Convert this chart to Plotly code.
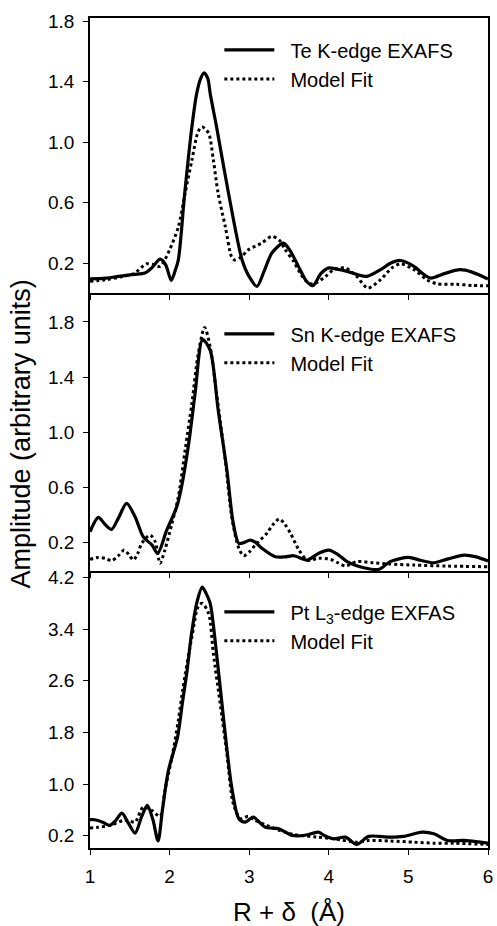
import plotly.graph_objects as go

# ---------------- data ----------------
te_x = [1.0, 1.2, 1.36, 1.55, 1.69, 1.78, 1.88, 1.95, 2.02, 2.07, 2.11, 2.19, 2.28, 2.34, 2.39, 2.434,
        2.48, 2.51, 2.59, 2.74, 2.91, 3.0, 3.097, 3.19, 3.285, 3.43, 3.516, 3.64, 3.72, 3.80, 3.9, 4.0,
        4.1, 4.23, 4.35, 4.48, 4.65, 4.78, 4.90, 5.07, 5.18, 5.28, 5.45, 5.65, 5.8, 6.0]
te_y = [0.095, 0.10, 0.112, 0.125, 0.134, 0.17, 0.226, 0.19, 0.085, 0.15, 0.222, 0.662, 1.10, 1.32, 1.42, 1.458,
        1.42, 1.32, 1.10, 0.662, 0.222, 0.11, 0.046, 0.15, 0.266, 0.332, 0.28, 0.156, 0.08, 0.05, 0.13, 0.168,
        0.16, 0.145, 0.125, 0.112, 0.156, 0.2, 0.217, 0.178, 0.13, 0.1, 0.13, 0.156, 0.14, 0.094]

te_fit_x = [1.0, 1.2, 1.4, 1.55, 1.71, 1.8, 1.88, 2.0, 2.11, 2.195, 2.28, 2.36, 2.41, 2.49, 2.55, 2.61, 2.70,
            2.78, 2.82, 2.9, 2.99, 3.15, 3.285, 3.38, 3.45, 3.56, 3.64, 3.72, 3.80, 3.96, 4.06, 4.21, 4.35,
            4.49, 4.65, 4.79, 4.90, 5.07, 5.23, 5.36, 5.6, 5.8, 6.0]
te_fit_y = [0.079, 0.09, 0.11, 0.13, 0.195, 0.19, 0.178, 0.288, 0.44, 0.662, 0.88, 1.07, 1.10, 1.058, 0.88, 0.66, 0.44,
            0.24, 0.22, 0.24, 0.288, 0.33, 0.376, 0.35, 0.29, 0.21, 0.134, 0.08, 0.06, 0.112, 0.156, 0.167, 0.112,
            0.035, 0.09, 0.167, 0.195, 0.156, 0.09, 0.063, 0.06, 0.052, 0.05]

sn_x = [1.0, 1.105, 1.19, 1.27, 1.36, 1.46, 1.566, 1.67, 1.78, 1.85, 1.965, 2.09, 2.15, 2.24, 2.32, 2.415,
        2.51, 2.61, 2.72, 2.80, 2.87, 2.94, 3.01, 3.08, 3.16, 3.33, 3.45, 3.56, 3.73, 3.87, 4.0, 4.12, 4.23,
        4.44, 4.63, 4.77, 5.0, 5.15, 5.32, 5.50, 5.70, 5.85, 6.0]
sn_y = [0.277, 0.381, 0.33, 0.294, 0.38, 0.483, 0.386, 0.24, 0.18, 0.12, 0.29, 0.458, 0.603, 0.918, 1.28, 1.672,
        1.594, 1.16, 0.724, 0.338, 0.193, 0.2, 0.217, 0.2, 0.157, 0.096, 0.095, 0.103, 0.072, 0.12, 0.144, 0.11, 0.06,
        0.016, 0.004, 0.06, 0.091, 0.07, 0.052, 0.08, 0.108, 0.095, 0.065]

sn_fit_x = [1.0, 1.1, 1.19, 1.27, 1.35, 1.43, 1.49, 1.545, 1.60, 1.65, 1.755, 1.82, 1.88, 1.94, 2.03, 2.11,
            2.195, 2.28, 2.36, 2.44, 2.51, 2.59, 2.70, 2.78, 2.87, 2.93, 3.0, 3.075, 3.22, 3.30, 3.38, 3.45,
            3.52, 3.62, 3.73, 3.87, 4.02, 4.12, 4.21, 4.35, 4.56, 4.77, 5.07, 5.49, 6.0]
sn_fit_y = [0.077, 0.09, 0.084, 0.067, 0.1, 0.144, 0.11, 0.072, 0.12, 0.193, 0.253, 0.204, 0.048, 0.144, 0.338, 0.531,
            0.87, 1.21, 1.57, 1.76, 1.618, 1.28, 0.797, 0.386, 0.157, 0.103, 0.13, 0.18, 0.265, 0.33, 0.37, 0.33,
            0.265, 0.150, 0.07, 0.084, 0.077, 0.05, 0.028, 0.06, 0.052, 0.043, 0.035, 0.028, 0.023]

pt_x = [1.0, 1.06, 1.16, 1.25, 1.32, 1.40, 1.48, 1.566, 1.65, 1.72, 1.79, 1.855, 1.91, 1.985, 2.10, 2.16,
        2.22, 2.27, 2.34, 2.41, 2.46, 2.51, 2.59, 2.68, 2.78, 2.87, 2.95, 3.05, 3.12, 3.20, 3.37, 3.45,
        3.54, 3.65, 3.73, 3.87, 3.95, 4.06, 4.21, 4.35, 4.50, 4.77, 4.94, 5.17, 5.32, 5.49, 5.70, 5.85, 6.0]
pt_y = [0.45, 0.448, 0.41, 0.36, 0.43, 0.55, 0.40, 0.24, 0.5, 0.67, 0.45, 0.12, 0.6, 1.21, 1.73, 2.25,
        2.76, 3.28, 3.80, 4.05, 3.95, 3.80, 3.02, 1.99, 0.954, 0.464, 0.41, 0.49, 0.42, 0.333, 0.308, 0.26,
        0.205, 0.2, 0.215, 0.256, 0.2, 0.153, 0.178, 0.065, 0.19, 0.178, 0.19, 0.256, 0.231, 0.127, 0.127, 0.11, 0.085]

pt_fit_x = [1.0, 1.1, 1.25, 1.42, 1.50, 1.566, 1.67, 1.78, 1.88, 1.94, 2.03, 2.11, 2.17, 2.28, 2.36, 2.41,
            2.49, 2.55, 2.635, 2.72, 2.80, 2.89, 2.99, 3.07, 3.2, 3.39, 3.56, 3.85, 4.06, 4.35, 4.50, 4.77,
            5.07, 5.32, 5.57, 6.0]
pt_fit_y = [0.32, 0.33, 0.36, 0.437, 0.43, 0.41, 0.644, 0.59, 0.50, 0.90, 1.42, 1.99, 2.5, 3.28, 3.75, 3.80,
            3.64, 3.02, 2.25, 1.47, 0.696, 0.464, 0.5, 0.44, 0.37, 0.28, 0.22, 0.18, 0.153, 0.1, 0.127, 0.118,
            0.1, 0.085, 0.085, 0.065]

x_ticks = [1, 2, 3, 4, 5, 6]
y_ticks_top = [0.2, 0.6, 1.0, 1.4, 1.8]
y_ticks_mid = [0.2, 0.6, 1.0, 1.4, 1.8]
y_ticks_bot = [0.2, 1.0, 1.8, 2.6, 3.4, 4.2]

NB = "\u00a0\u00a0"
panels = [
    (NB + "Te K-edge EXAFS", te_x, te_y, te_fit_x, te_fit_y, y_ticks_top, [0.0, 1.82]),
    (NB + "Sn K-edge EXAFS", sn_x, sn_y, sn_fit_x, sn_fit_y, y_ticks_mid, [-0.008, 2.008]),
    (NB + "Pt L<sub>3</sub>-edge EXFAS", pt_x, pt_y, pt_fit_x, pt_fit_y, y_ticks_bot, [0.01, 4.30]),
]

FONT = "Liberation Sans, Arial, Helvetica, sans-serif"
domains = [[0.6683, 1.0], [0.3337, 0.6683], [0.0, 0.3337]]
legend_pos = [(0.325, 0.985), (0.325, 0.643), (0.325, 0.308)]

fig = go.Figure()
for i, (name, x, y, fx, fy, yt, yr) in enumerate(panels):
    n = i + 1
    xa = "x" if n == 1 else f"x{n}"
    ya = "y" if n == 1 else f"y{n}"
    lg = "legend" if n == 1 else f"legend{n}"
    fig.add_trace(go.Scatter(x=x, y=y, mode="lines", name=name, xaxis=xa, yaxis=ya, legend=lg,
                             line=dict(color="black", width=3.2, shape="spline", smoothing=0.8)))
    fig.add_trace(go.Scatter(x=fx, y=fy, mode="lines", name=NB + "Model Fit", xaxis=xa, yaxis=ya, legend=lg,
                             line=dict(color="black", width=3, dash="3px,3px", shape="spline", smoothing=0.8)))
    xkey = "xaxis" if n == 1 else f"xaxis{n}"
    ykey = "yaxis" if n == 1 else f"yaxis{n}"
    fig.layout[xkey] = dict(domain=[0, 1], anchor=ya, range=[1, 6], tickvals=x_ticks,
                            showticklabels=(n == 3), ticks="outside", ticklen=5, tickwidth=1.2,
                            tickcolor="black", showline=True, linecolor="black", linewidth=1.5,
                            mirror=(n == 1), showgrid=False, zeroline=False, automargin=False,
                            ticklabelstandoff=5 if n == 3 else 0,
                            tickfont=dict(family=FONT, size=19, color="black"))
    fig.layout[ykey] = dict(domain=domains[i], anchor=xa, range=yr, tickvals=yt,
                            ticktext=[f"{v:.1f}" for v in yt], automargin=False,
                            ticks="outside", ticklen=5, tickwidth=1.2, tickcolor="black",
                            showline=True, linecolor="black", linewidth=1.5, mirror=True,
                            showgrid=False, zeroline=False, ticklabelstandoff=5,
                            tickfont=dict(family=FONT, size=19, color="black"))
    lx, ly = legend_pos[i]
    fig.layout[lg] = dict(x=lx, y=ly, xanchor="left", yanchor="top", bgcolor="rgba(0,0,0,0)",
                          font=dict(family=FONT, size=20, color="black"), itemwidth=50,
                          tracegroupgap=0)

fig.add_annotation(text="R + \u03b4\u00a0\u00a0(\u00c5)", x=0.5, y=-0.0771, xref="paper", yref="paper",
                   xanchor="center", yanchor="middle", showarrow=False,
                   font=dict(family=FONT, size=26, color="black"))
fig.add_annotation(text="Amplitude (arbitrary units)", textangle=-90, x=-0.171, y=0.4994,
                   xref="paper", yref="paper", xanchor="center", yanchor="middle", showarrow=False,
                   font=dict(family=FONT, size=27, color="black"))

fig.update_layout(width=497, height=926, margin=dict(l=90, r=9, t=18, b=78),
                  plot_bgcolor="white", paper_bgcolor="white", showlegend=True)

fig.write_html("out.html")
